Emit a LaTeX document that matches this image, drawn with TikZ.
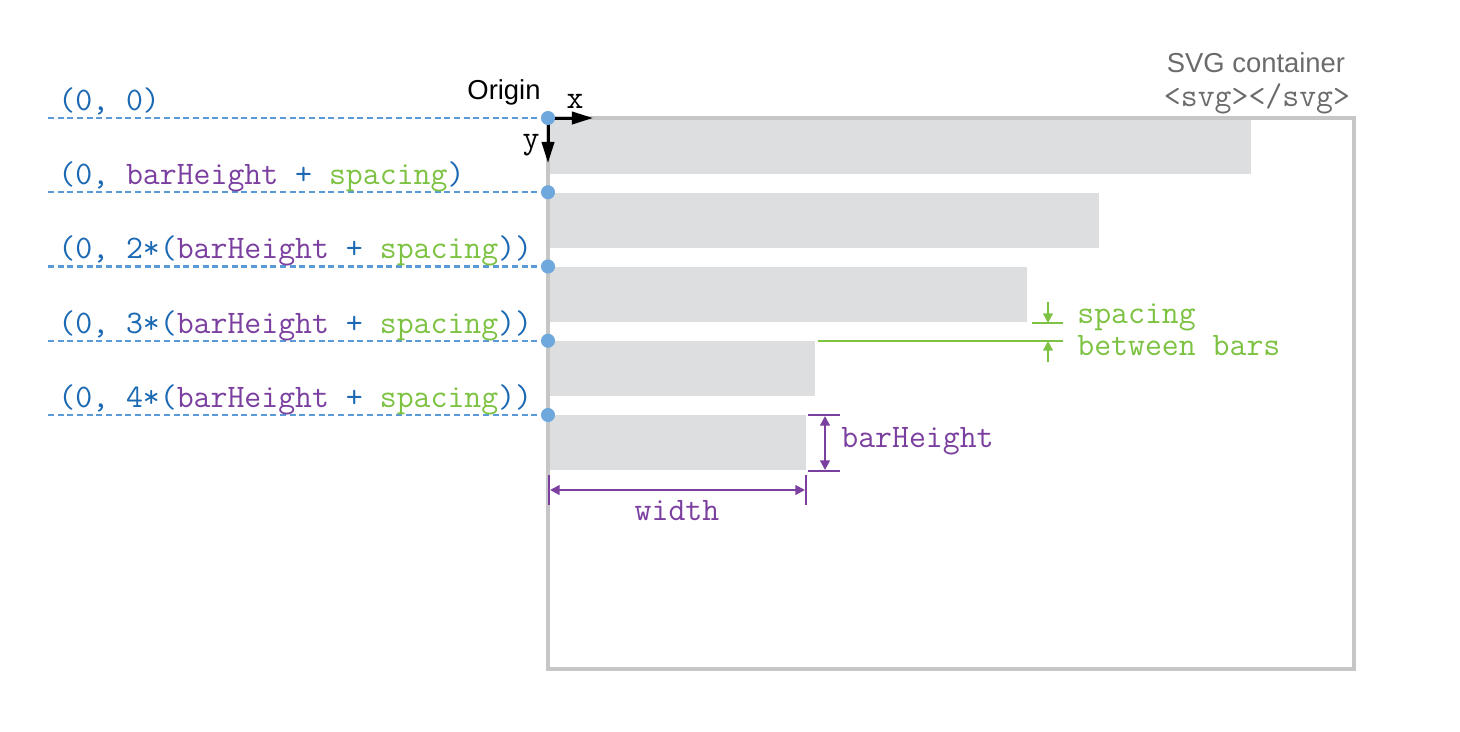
\documentclass[tikz,border=0pt]{standalone}
\usepackage{fontspec}
\setmainfont{Liberation Sans}
\usetikzlibrary{arrows.meta}

\definecolor{coordblue}{HTML}{1B68B3}
\definecolor{dotblue}{HTML}{6FA8DC}
\definecolor{dashblue}{HTML}{5A9AD6}
\definecolor{hpurple}{HTML}{7B3F9F}
\definecolor{sgreen}{HTML}{7DC242}
\definecolor{bargray}{HTML}{DDDEE0}
\definecolor{framegray}{HTML}{C6C6C6}
\definecolor{labelgray}{HTML}{6B6B6B}

\newcommand{\barh}{\textcolor{hpurple}{barHeight}}
\newcommand{\spcg}{\textcolor{sgreen}{spacing}}

\tikzset{
  code/.style={font=\ttfamily\fontsize{18.7}{22}\selectfont, inner sep=0pt},
  plain/.style={font=\fontsize{15.6}{19}\selectfont, inner sep=0pt},
  dashline/.style={dashblue, line width=1.2pt, dash pattern=on 3.5pt off 2pt},
  axis/.style={line width=1.7pt, -{Triangle[length=12pt, width=7pt]}},
  dimline/.style={line width=1.2pt},
  dimtip/.style={{Triangle[length=5.5pt, width=5.5pt]}-{Triangle[length=5.5pt, width=5.5pt]}}
}

\begin{document}
\begin{tikzpicture}[x=0.02cm, y=-0.02cm]
  \useasboundingbox (0,0) rectangle (1460,731);

  % Bars
  \fill[bargray] (550,120) rectangle (1251,174);
  \fill[bargray] (550,193) rectangle (1099,248);
  \fill[bargray] (550,267) rectangle (1027,322);
  \fill[bargray] (550,341) rectangle (815,396);
  \fill[bargray] (550,415) rectangle (806,470);

  % SVG container
  \draw[framegray, line width=1.8pt] (548,118) rectangle (1354,669);
  \node[plain, text=labelgray] (svgname) at (1256,63) {SVG container};
  \node[code, text=labelgray] (svgtag) at (1257,99) {<svg></svg>};

  % Row origins and guide lines
  \foreach \i in {0,...,4} {
    \coordinate (p\i) at (548,{118+74.25*\i});
    \coordinate (l\i) at (48,{118+74.25*\i});
    \draw[dashline] (l\i) -- (p\i);
  }

  % Coordinate labels
  \node[code, anchor=base west, text=coordblue] (c0) at (58,110) {(0, 0)};
  \node[code, anchor=base west, text=coordblue] (c1) at (58,184) {(0, \barh{} + \spcg)};
  \node[code, anchor=base west, text=coordblue] (c2) at (58,258) {(0, 2*(\barh{} + \spcg))};
  \node[code, anchor=base west, text=coordblue] (c3) at (58,333) {(0, 3*(\barh{} + \spcg))};
  \node[code, anchor=base west, text=coordblue] (c4) at (58,407) {(0, 4*(\barh{} + \spcg))};

  % Axes
  \coordinate (xend) at (593,118);
  \coordinate (yend) at (548,163);
  \draw[axis] (p0) -- (xend);
  \draw[axis] (p0) -- (yend);
  \node[code] (xlab) at (575,101) {x};
  \node[code] (ylab) at (531,145) {y};
  \node[plain] (origin) at (504,92) {Origin};

  \foreach \i in {0,...,4}
    \fill[dotblue] (p\i) circle (4pt);

  % Spacing between bars
  \coordinate (s1) at (1032,323);
  \coordinate (s2) at (1063,323);
  \coordinate (s3) at (818,341);
  \coordinate (s4) at (1063,341);
  \draw[sgreen, dimline] (s1) -- (s2);
  \draw[sgreen, dimline] (s3) -- (s4);
  \draw[sgreen, dimline, -{Triangle[length=5.5pt, width=5.5pt]}] (1048,302) -- (1048,323);
  \draw[sgreen, dimline, -{Triangle[length=5.5pt, width=5.5pt]}] (1048,362) -- (1048,341);
  \node[code, anchor=base west, text=sgreen] (spclab) at (1077,323) {spacing};
  \node[code, anchor=base west, text=sgreen] (btwlab) at (1077,355) {between bars};

  % Bar height
  \coordinate (h1) at (808,415);
  \coordinate (h2) at (840,415);
  \coordinate (h3) at (808,471);
  \coordinate (h4) at (840,471);
  \draw[hpurple, dimline] (h1) -- (h2);
  \draw[hpurple, dimline] (h3) -- (h4);
  \draw[hpurple, dimline, dimtip] (825,416) -- (825,470);
  \node[code, anchor=base west, text=hpurple] (hlab) at (841,447) {barHeight};

  % Width
  \coordinate (w1) at (549,475);
  \coordinate (w2) at (549,505);
  \coordinate (w3) at (806,475);
  \coordinate (w4) at (806,505);
  \draw[hpurple, dimline] (w1) -- (w2);
  \draw[hpurple, dimline] (w3) -- (w4);
  \draw[hpurple, dimline, dimtip] (550,490) -- (805,490);
  \node[code, anchor=base, text=hpurple] (wlab) at (677,520) {width};
\end{tikzpicture}
\end{document}
